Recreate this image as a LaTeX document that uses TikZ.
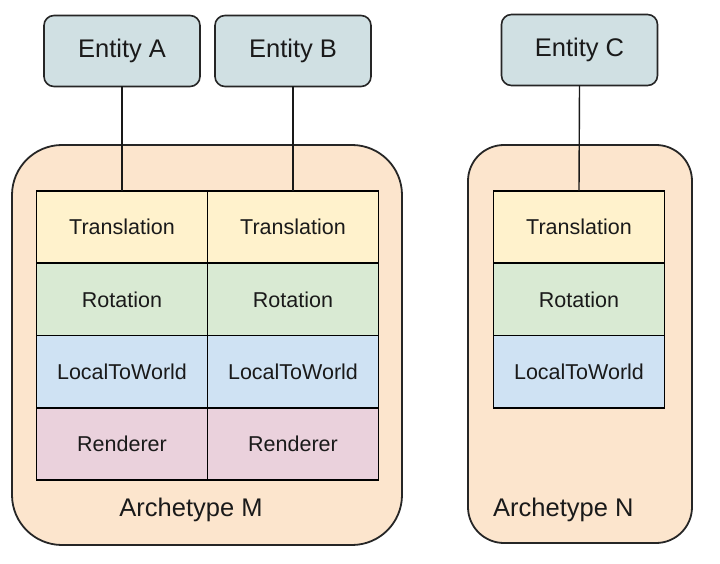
\documentclass[tikz,border=0pt]{standalone}
\usepackage{fontspec}
\setmainfont{Liberation Sans}
\definecolor{entfill}{HTML}{D0E0E3}
\definecolor{archfill}{HTML}{FCE5CD}
\definecolor{trfill}{HTML}{FFF2CC}
\definecolor{rotfill}{HTML}{D9EAD3}
\definecolor{ltwfill}{HTML}{CFE2F3}
\definecolor{renfill}{HTML}{EAD1DC}
\definecolor{txt}{HTML}{1A1A1A}
\begin{document}
\begin{tikzpicture}[x=1pt,y=-1pt,
  entity/.style={draw=black!85, line width=1.6pt, fill=entfill, rounded corners=10pt,
    minimum width=156pt, minimum height=71pt, inner sep=0pt, outer sep=0pt,
    font=\fontsize{25.5}{28}\selectfont, text=txt},
  arch/.style={draw=black!85, line width=1.8pt, fill=archfill, inner sep=0pt, outer sep=0pt},
  cell/.style={draw=black, line width=1.7pt, minimum width=171pt, minimum height=72.25pt,
    inner sep=0pt, outer sep=0pt, font=\fontsize{21.5}{24}\selectfont, text=txt},
  alabel/.style={font=\fontsize{25.5}{28}\selectfont, text=txt, inner sep=0pt},
  conn/.style={draw=black!90, line width=1.4pt}]
\useasboundingbox (0,0) rectangle (720,564);
% archetype containers
\node[arch, rounded corners=50pt, minimum width=390pt, minimum height=400pt] (archM) at (207,345) {};
\node[arch, rounded corners=36pt, minimum width=224pt, minimum height=398pt] (archN) at (580,344) {};
% entities
\node[entity] (entA) at (122,51) {Entity A};
\node[entity] (entB) at (293,51) {Entity B};
\node[entity] (entC) at (579.5,50) {Entity C};
% left table
\node[cell, fill=trfill]  (trA)  at (122,227.1) {Translation};
\node[cell, fill=rotfill] (rotA) at (122,299.4) {Rotation};
\node[cell, fill=ltwfill] (ltwA) at (122,371.6) {LocalToWorld};
\node[cell, fill=renfill] (renA) at (122,443.9) {Renderer};
\node[cell, fill=trfill]  (trB)  at (293,227.1) {Translation};
\node[cell, fill=rotfill] (rotB) at (293,299.4) {Rotation};
\node[cell, fill=ltwfill] (ltwB) at (293,371.6) {LocalToWorld};
\node[cell, fill=renfill] (renB) at (293,443.9) {Renderer};
% right table
\node[cell, fill=trfill]  (trC)  at (579,227.1) {Translation};
\node[cell, fill=rotfill] (rotC) at (579,299.4) {Rotation};
\node[cell, fill=ltwfill] (ltwC) at (579,371.6) {LocalToWorld};
% connectors
\draw[conn] (entA.south) -- (trA.north);
\draw[conn] (entB.south) -- (trB.north);
\draw[conn] (entC.south) -- (trC.north);
% labels
\node[alabel] (labM) at (191,510) {Archetype M};
\node[alabel, anchor=west] (labN) at (493,510) {Archetype N};
\end{tikzpicture}
\end{document}
